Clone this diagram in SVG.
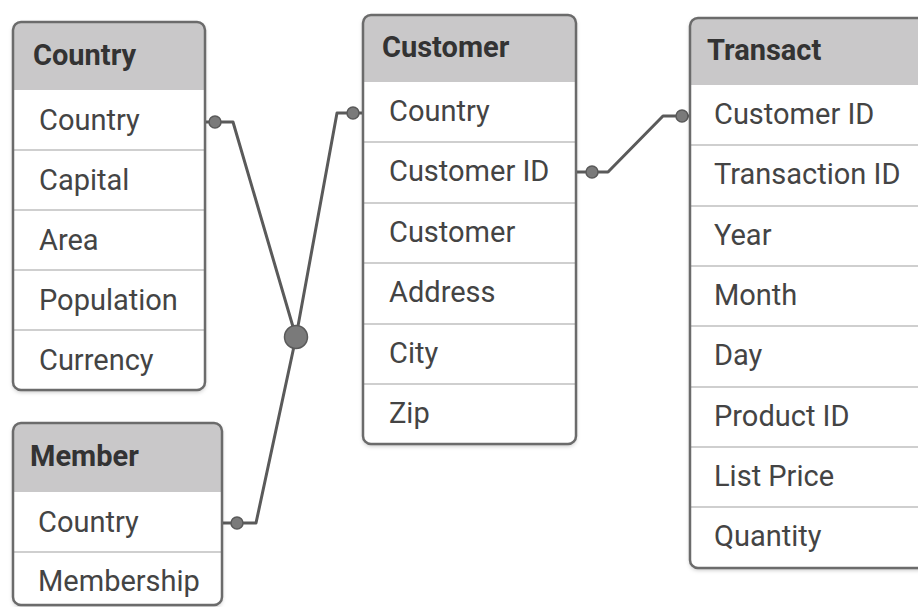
<svg xmlns="http://www.w3.org/2000/svg" width="918" height="607" viewBox="0 0 918 607">
<style>
.box{fill:#fff;stroke:none}
.frame{fill:none;stroke:#6b6b6b;stroke-width:2.5}
.head{fill:#c9c8c9}
.sep{stroke:#cfcfcf;stroke-width:2}
.ht{font-family:Roboto,"Liberation Sans",sans-serif;font-weight:bold;font-size:29px;fill:#333}
.rt{font-family:Roboto,"Liberation Sans",sans-serif;font-size:29px;fill:#444}
.ln{fill:none;stroke:#5a5a5a;stroke-width:3;stroke-linejoin:round}
.dot{fill:#7a7a7a;stroke:#5a5a5a;stroke-width:1.5}
</style>
<defs>
<filter id="sh" x="-10%" y="-10%" width="120%" height="120%">
<feDropShadow dx="0" dy="2" stdDeviation="2" flood-color="#000" flood-opacity="0.25"/>
</filter>
</defs>
<rect width="918" height="607" fill="#fff"/>

<g id="connectors">
<polyline class="ln" points="205,122 233,122 296,337"/>
<polyline class="ln" points="296,337 337,113 363,113"/>
<polyline class="ln" points="296,337 256,523 222,523"/>
<polyline class="ln" points="576,172 608,172 663,116 690,116"/>
<circle class="dot" cx="215" cy="122" r="6"/>
<circle class="dot" cx="353" cy="113" r="6"/>
<circle class="dot" cx="237" cy="523" r="6"/>
<circle class="dot" cx="592" cy="172" r="6"/>
<circle class="dot" cx="682" cy="116" r="6"/>
<circle class="dot" cx="296" cy="337" r="11.5"/>
</g>

<g id="country">
<rect class="box" x="13" y="22" width="192" height="368" rx="8" filter="url(#sh)"/>
<path class="head" d="M13,90 V30 Q13,22 21,22 H197 Q205,22 205,30 V90 Z"/>
<line class="sep" x1="13" y1="150" x2="205" y2="150"/>
<line class="sep" x1="13" y1="210" x2="205" y2="210"/>
<line class="sep" x1="13" y1="270" x2="205" y2="270"/>
<line class="sep" x1="13" y1="330" x2="205" y2="330"/>
<rect class="frame" x="13" y="22" width="192" height="368" rx="8"/>
<text class="ht" x="33" y="65">Country</text>
<text class="rt" x="39" y="130">Country</text>
<text class="rt" x="39" y="190">Capital</text>
<text class="rt" x="39" y="250">Area</text>
<text class="rt" x="39" y="310">Population</text>
<text class="rt" x="39" y="370">Currency</text>
</g>

<g id="member">
<rect class="box" x="13" y="423" width="209" height="182" rx="8" filter="url(#sh)"/>
<path class="head" d="M13,492 V431 Q13,423 21,423 H214 Q222,423 222,431 V492 Z"/>
<line class="sep" x1="13" y1="552" x2="222" y2="552"/>
<rect class="frame" x="13" y="423" width="209" height="182" rx="8"/>
<text class="ht" x="30" y="466">Member</text>
<text class="rt" x="38" y="532">Country</text>
<text class="rt" x="38" y="591">Membership</text>
</g>

<g id="customer">
<rect class="box" x="363" y="15" width="213" height="429" rx="8" filter="url(#sh)"/>
<path class="head" d="M363,82 V23 Q363,15 371,15 H568 Q576,15 576,23 V82 Z"/>
<line class="sep" x1="363" y1="142" x2="576" y2="142"/>
<line class="sep" x1="363" y1="203" x2="576" y2="203"/>
<line class="sep" x1="363" y1="263" x2="576" y2="263"/>
<line class="sep" x1="363" y1="324" x2="576" y2="324"/>
<line class="sep" x1="363" y1="384" x2="576" y2="384"/>
<rect class="frame" x="363" y="15" width="213" height="429" rx="8"/>
<text class="ht" x="382" y="57">Customer</text>
<text class="rt" x="389" y="121">Country</text>
<text class="rt" x="389" y="181">Customer ID</text>
<text class="rt" x="389" y="242">Customer</text>
<text class="rt" x="389" y="302">Address</text>
<text class="rt" x="389" y="363">City</text>
<text class="rt" x="389" y="423">Zip</text>
</g>

<g id="transact">
<rect class="box" x="690" y="18" width="250" height="550" rx="8" filter="url(#sh)"/>
<path class="head" d="M690,85 V26 Q690,18 698,18 H940 V85 Z"/>
<line class="sep" x1="690" y1="145" x2="918" y2="145"/>
<line class="sep" x1="690" y1="206" x2="918" y2="206"/>
<line class="sep" x1="690" y1="266" x2="918" y2="266"/>
<line class="sep" x1="690" y1="326" x2="918" y2="326"/>
<line class="sep" x1="690" y1="387" x2="918" y2="387"/>
<line class="sep" x1="690" y1="447" x2="918" y2="447"/>
<line class="sep" x1="690" y1="507" x2="918" y2="507"/>
<rect class="frame" x="690" y="18" width="250" height="550" rx="8"/>
<text class="ht" x="707" y="60">Transact</text>
<text class="rt" x="714" y="124">Customer ID</text>
<text class="rt" x="714" y="184">Transaction ID</text>
<text class="rt" x="714" y="245">Year</text>
<text class="rt" x="714" y="305">Month</text>
<text class="rt" x="714" y="365">Day</text>
<text class="rt" x="714" y="426">Product ID</text>
<text class="rt" x="714" y="486">List Price</text>
<text class="rt" x="714" y="546">Quantity</text>
</g>
</svg>
